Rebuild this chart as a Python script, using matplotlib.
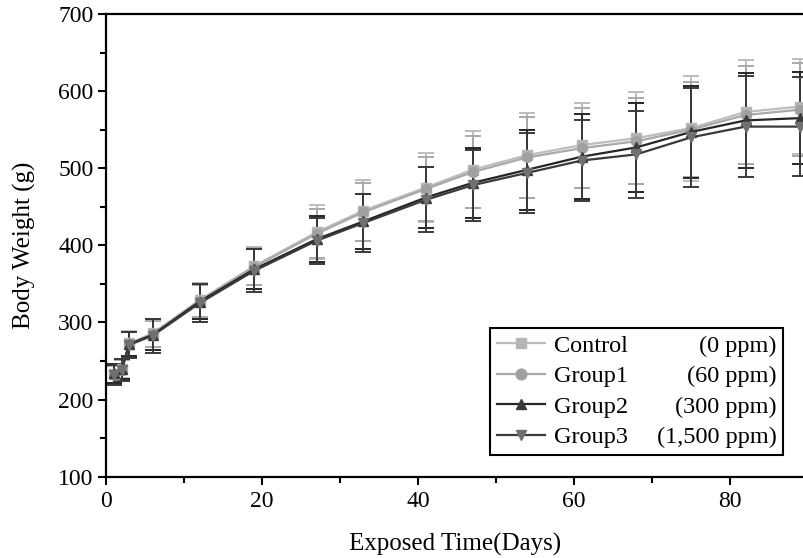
import matplotlib
matplotlib.use("Agg")
import matplotlib.pyplot as plt
from matplotlib.ticker import MultipleLocator

plt.rcParams["font.family"] = ["Liberation Serif", "DejaVu Serif"]

days = [1, 2, 3, 6, 12, 19, 27, 33, 41, 47, 54, 61, 68, 75, 82, 89]

control = [233, 240, 273, 286, 329, 373, 417, 445, 475, 498, 517, 530, 539, 552, 573, 580]
group1 = [232, 239, 272, 285, 328, 372, 415, 443, 473, 495, 514, 526, 535, 550, 569, 576]
group2 = [234, 240, 272, 284, 327, 369, 408, 431, 462, 481, 498, 515, 527, 547, 562, 565]
group3 = [232, 238, 271, 283, 325, 367, 406, 429, 459, 478, 494, 510, 518, 540, 554, 554]

sd_control = [12, 12, 16, 18, 22, 25, 35, 40, 45, 50, 55, 55, 60, 68, 68, 62]
sd_group1 = [11, 12, 15, 17, 21, 24, 32, 38, 42, 47, 52, 52, 56, 62, 64, 60]
sd_group2 = [12, 13, 16, 20, 23, 26, 30, 36, 40, 45, 52, 55, 58, 60, 62, 60]
sd_group3 = [13, 14, 17, 22, 25, 28, 30, 38, 42, 46, 52, 52, 56, 64, 66, 64]

names = ["Control", "Group1", "Group2", "Group3"]
doses = ["(0 ppm)", "(60 ppm)", "(300 ppm)", "(1,500 ppm)"]
means = [control, group1, group2, group3]
sds = [sd_control, sd_group1, sd_group2, sd_group3]

line_colors = ["#bdbdbd", "#a9a9a9", "#262626", "#3a3a3a"]
marker_colors = ["#b5b5b5", "#a0a0a0", "#3a3a3a", "#707070"]
markers = ["s", "o", "^", "v"]

fig = plt.figure(figsize=(8.04, 5.58), dpi=100)
ax = fig.add_axes([0.1318, 0.1457, 0.8682, 0.8292])

handles = []
for m, s, lc, mc, mk, name in zip(means, sds, line_colors, marker_colors, markers, names):
    cont = ax.errorbar(days, m, yerr=s, color=lc, ecolor=lc, elinewidth=1.4,
                       capsize=6, capthick=1.4, linewidth=1.6, marker=mk,
                       markersize=7, markerfacecolor=mc, markeredgecolor=mc,
                       label=name)
    handles.append(cont[0])

ax.set_xlim(0, 89.5)
ax.set_ylim(100, 700)
ax.xaxis.set_major_locator(MultipleLocator(20))
ax.xaxis.set_minor_locator(MultipleLocator(10))
ax.yaxis.set_major_locator(MultipleLocator(100))
ax.yaxis.set_minor_locator(MultipleLocator(50))
ax.tick_params(which="both", direction="out", width=1.5, labelsize=17)
ax.tick_params(which="major", length=6)
ax.tick_params(which="minor", length=4)
ax.tick_params(axis="x", pad=4)
ax.tick_params(axis="y", pad=3)

for side in ["left", "bottom", "top"]:
    ax.spines[side].set_linewidth(1.6)
ax.spines["right"].set_visible(False)

ax.set_xlabel("Exposed Time(Days)", fontsize=18, labelpad=15)
ax.set_ylabel("Body Weight (g)", fontsize=18, labelpad=16)

# legend box stretched to the width of the reference, dose text added on the right
leg_x0, leg_x1 = (490 - 106) / 698, (783 - 106) / 698
leg_y0, leg_y1 = (476.7 - 455) / 462.7, (476.7 - 327) / 462.7
leg = ax.legend(handles, names, loc="lower left", mode="expand",
                bbox_to_anchor=(leg_x0, leg_y0, leg_x1 - leg_x0, leg_y1 - leg_y0),
                borderaxespad=0, fontsize=17.5, handlelength=2.0,
                handletextpad=0.35, labelspacing=0.35, borderpad=0.28,
                fancybox=False, frameon=True, framealpha=1, markerscale=1.1)
leg.get_frame().set_edgecolor("black")
leg.get_frame().set_linewidth(1.5)

fig.canvas.draw()
inv = ax.transAxes.inverted()
frame = leg.get_frame().get_window_extent()
x_right = frame.x1 - 6
for t, dose in zip(leg.get_texts(), doses):
    bb = t.get_window_extent()
    x, y = inv.transform((x_right, bb.y0))
    ax.text(x, y, dose, transform=ax.transAxes, ha="right", va="bottom",
            fontsize=17.5, color="black", zorder=10)

fig.savefig("out.png", dpi=100)
